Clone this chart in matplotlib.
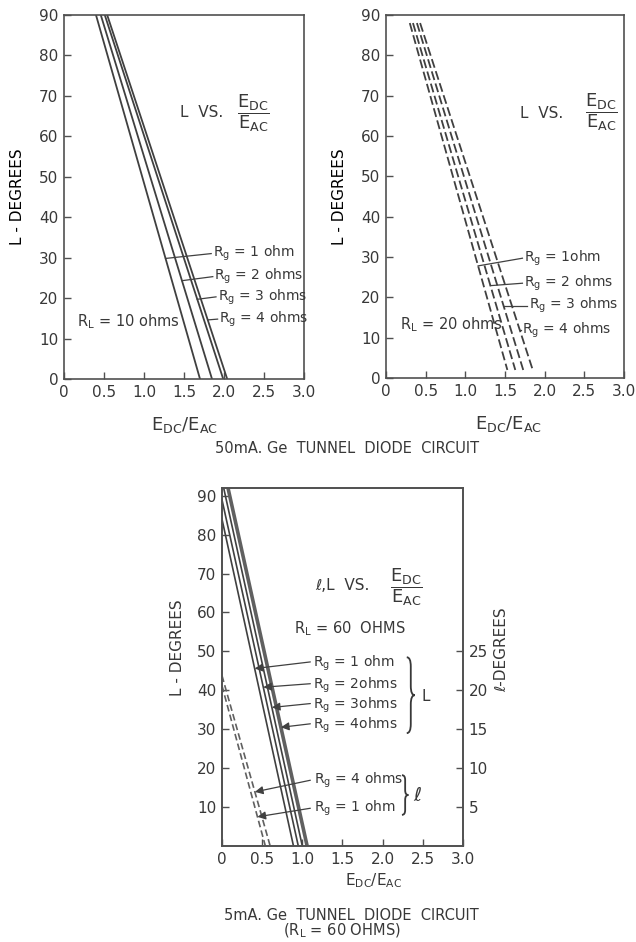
import numpy as np
import matplotlib
matplotlib.use('Agg')
from matplotlib import pyplot as plt
from matplotlib.path import Path
from matplotlib.patches import PathPatch

INK = '#383838'
LINE = '#404040'
plt.rcParams['font.family'] = ['DejaVu Sans']
plt.rcParams['text.color'] = INK
plt.rcParams['axes.edgecolor'] = '#505050'
plt.rcParams['xtick.color'] = '#505050'
plt.rcParams['ytick.color'] = '#505050'
plt.rcParams['xtick.labelcolor'] = INK
plt.rcParams['ytick.labelcolor'] = INK

# ---- data ----
x_ticks = [0, 0.5, 1.0, 1.5, 2.0, 2.5, 3.0]
x_tick_labels = ['0', '0.5', '1.0', '1.5', '2.0', '2.5', '3.0']
rg_names = ['1 ohm', '2 ohms', '3 ohms', '4 ohms']

# 50 mA, RL = 10 ohms (solid) - E_DC/E_AC at both ends of each line
rl10_L = [90, 0]
rl10_x = [[0.40, 1.70], [0.46, 1.85], [0.51, 1.99], [0.54, 2.04]]

# 50 mA, RL = 20 ohms (dashed)
rl20_L = [88, 2]
rl20_x = [[0.30, 1.53], [0.34, 1.63], [0.39, 1.73], [0.43, 1.85]]

# 5 mA, RL = 60 ohms, L curves (left axis)
rl60_x = [[0, 0.89], [0, 0.95], [0, 1.00], [0, 1.06]]
rl60_L = [[84, 0], [89, 0], [94, 0], [99, 0]]

# 5 mA, l curves (right axis), Rg = 4 ohms and Rg = 1 ohm
ell_names = ['4 ohms', '1 ohm']
ell_x = [[0, 0.60], [0, 0.54]]
ell_deg = [[21.9, 0], [20.6, 0]]


def x_at(xs, ys, y):
    xs, ys = np.asarray(xs, float), np.asarray(ys, float)
    order = np.argsort(ys)
    return float(np.interp(y, ys[order], xs[order]))


def style(ax, yticks, ylim):
    ax.set_xlim(0, 3.0)
    ax.set_ylim(*ylim)
    ax.set_xticks(x_ticks)
    ax.set_xticklabels(x_tick_labels)
    ax.set_yticks(yticks)
    ax.tick_params(direction='in', length=5, width=1, labelsize=11, pad=4)
    for s in ax.spines.values():
        s.set_linewidth(1.2)


def brace(ax, x, y0, y1, w):
    ym = (y0 + y1) / 2
    d = (y1 - y0) * 0.12
    verts = [(x, y1), (x + w / 2, y1), (x + w / 2, y1 - d),
             (x + w / 2, ym + d),
             (x + w / 2, ym), (x + w, ym),
             (x + w / 2, ym), (x + w / 2, ym - d),
             (x + w / 2, y0 + d),
             (x + w / 2, y0), (x, y0)]
    codes = [Path.MOVETO, Path.CURVE3, Path.CURVE3, Path.LINETO,
             Path.CURVE3, Path.CURVE3, Path.CURVE3, Path.CURVE3,
             Path.LINETO, Path.CURVE3, Path.CURVE3]
    ax.add_patch(PathPatch(Path(verts, codes), fill=False, ec=INK, lw=1.3,
                           clip_on=False))


frac = r'$\dfrac{\mathregular{E_{DC}}}{\mathregular{E_{AC}}}$'
big_xlabel = r'$\mathregular{E_{DC}}\left/\mathregular{E_{AC}}\right.$'

fig = plt.figure(figsize=(6.36, 9.42), dpi=100)

# ---------------- top left: RL = 10 ohms ----------------
ax1 = fig.add_axes([0.1006, 0.5977, 0.3774, 0.3864])
style(ax1, range(0, 91, 10), (0, 90))
for xs in rl10_x:
    ax1.plot(xs, rl10_L, color=LINE, lw=1.3)
ptr_L = [29.8, 24.3, 19.7, 14.6]
lab_pos = [(1.86, 31.0), (1.88, 25.3), (1.92, 20.3), (1.94, 14.8)]
for xs, yl, (lx, ly), name in zip(rl10_x, ptr_L, lab_pos, rg_names):
    ax1.plot([x_at(xs, rl10_L, yl), lx - 0.02], [yl, ly], color=LINE, lw=0.9)
    ax1.text(lx, ly, r'$\mathregular{R_g}$ = ' + name, fontsize=10, va='center')
ax1.text(1.45, 65.8, 'L  VS.', fontsize=11, va='center')
ax1.text(2.36, 65.8, frac, fontsize=13, va='center', ha='center')
ax1.text(0.16, 14.2, r'$\mathregular{R_L}$ = 10 ohms', fontsize=10.5, va='center')
ax1.set_ylabel('L - DEGREES', fontsize=11, labelpad=10)
ax1.text(1.5, -11.5, big_xlabel, fontsize=13, ha='center', va='center')

# ---------------- top right: RL = 20 ohms ----------------
ax2 = fig.add_axes([0.6069, 0.5987, 0.3742, 0.3854])
style(ax2, range(0, 91, 10), (0, 90))
for xs in rl20_x:
    ax2.plot(xs, rl20_L, color=LINE, lw=1.3, dashes=(5, 2))
ptr_L = [27.8, 22.9, 17.9, 11.9]
lab_pos = [(1.74, 29.7), (1.74, 23.5), (1.80, 17.9), (1.72, 11.9)]
names20 = ['1ohm', '2 ohms', '3 ohms', '4 ohms']
for xs, yl, (lx, ly), name in zip(rl20_x, ptr_L, lab_pos, names20):
    ax2.plot([x_at(xs, rl20_L, yl), lx - 0.02], [yl, ly], color=LINE, lw=0.9)
    ax2.text(lx, ly, r'$\mathregular{R_g}$ = ' + name, fontsize=10, va='center')
ax2.text(1.69, 65.7, 'L  VS.', fontsize=11, va='center')
ax2.text(2.72, 66.0, frac, fontsize=13, va='center', ha='center')
ax2.text(0.18, 13.2, r'$\mathregular{R_L}$ = 20 ohms', fontsize=10.5, va='center')
ax2.set_ylabel('L - DEGREES', fontsize=11, labelpad=10)
ax2.text(1.55, -11.5, big_xlabel, fontsize=13, ha='center', va='center')

fig.text(0.546, 0.5244, '50mA. Ge  TUNNEL  DIODE  CIRCUIT', fontsize=10.5,
         ha='center', va='center')

# ---------------- bottom: 5 mA, RL = 60 ohms ----------------
ax3 = fig.add_axes([0.349, 0.1019, 0.379, 0.3801])
style(ax3, range(10, 91, 10), (0, 92))
ax3r = ax3.twinx()
ax3r.set_ylim(0, 46)
ax3r.set_yticks([5, 10, 15, 20, 25])
ax3r.tick_params(direction='in', length=5, width=1, labelsize=11, pad=4)
for s in ax3r.spines.values():
    s.set_linewidth(1.2)

widths = [1.2, 1.2, 1.2, 2.6]
shades = [LINE, LINE, LINE, '#606060']
for xs, ys, w, c in zip(rl60_x, rl60_L, widths, shades):
    ax3.plot(xs, ys, color=c, lw=w)
for xs, ys in zip(ell_x, ell_deg):
    ax3r.plot(xs, ys, color='#606060', lw=1.2, dashes=(4, 2))

tip_L = [45.6, 40.8, 35.6, 30.5]
lab_L = [46.9, 41.3, 36.2, 31.0]
names60 = ['1 ohm', '2ohms', '3ohms', '4ohms']
for xs, ys, tl, ll, name in zip(rl60_x, rl60_L, tip_L, lab_L, names60):
    ax3.annotate('', xy=(x_at(xs, ys, tl), tl), xytext=(1.10, ll + 0.4),
                 arrowprops=dict(arrowstyle='-|>', color=LINE, lw=0.9,
                                 mutation_scale=12, shrinkA=0, shrinkB=0))
    ax3.text(1.13, ll, r'$\mathregular{R_g}$ = ' + name, fontsize=10, va='center')
brace(ax3, 2.30, 29, 48.5, 0.1)
ax3.text(2.48, 38.5, 'L', fontsize=11, va='center')

tip_ell = [6.95, 3.75]
lab_ell = [8.45, 4.85]
for xs, ys, tl, ll, name in zip(ell_x, ell_deg, tip_ell, lab_ell, ell_names):
    ax3r.annotate('', xy=(x_at(xs, ys, tl), tl), xytext=(1.10, ll),
                  arrowprops=dict(arrowstyle='-|>', color=LINE, lw=0.9,
                                  mutation_scale=12, shrinkA=0, shrinkB=0))
    ax3r.text(1.14, ll, r'$\mathregular{R_g}$ = ' + name, fontsize=10, va='center')
brace(ax3r, 2.24, 4.0, 9.1, 0.08)
ax3r.text(2.38, 6.5, 'ℓ', fontsize=14, va='center')

ax3.text(1.16, 67.0, 'ℓ,L  VS.', fontsize=11, va='center')
ax3.text(2.29, 66.4, frac, fontsize=13, va='center', ha='center')
ax3.text(1.59, 55.9, r'$\mathregular{R_L}$ = 60  OHMS', fontsize=10.5,
         va='center', ha='center')
ax3.text(1.88, -9.0, r'$\mathregular{E_{DC}/E_{AC}}$', fontsize=11,
         ha='center', va='center')
fig.text(178 / 636, 1 - 648 / 942, 'L - DEGREES', fontsize=11, rotation=90,
         ha='center', va='center')
fig.text(502 / 636, 1 - 650 / 942, 'ℓ-DEGREES', fontsize=11, rotation=90,
         ha='center', va='center')

fig.text(0.553, 1 - 915 / 942, '5mA. Ge  TUNNEL  DIODE  CIRCUIT', fontsize=10.5,
         ha='center', va='center')
fig.text(0.538, 1 - 931 / 942, r'($\mathregular{R_L}$ = 60 OHMS)', fontsize=10.5,
         ha='center', va='center')

fig.savefig('out.png', dpi=100, facecolor='white')
